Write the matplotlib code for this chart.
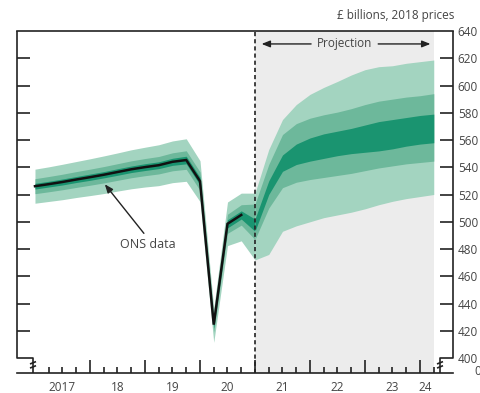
import matplotlib
matplotlib.use("Agg")
import matplotlib.pyplot as plt
import numpy as np

plt.rcParams['font.family'] = ['Open Sans', 'DejaVu Sans']

# ---- data (quarters plotted at start of quarter) ----
hist_x = [2017.0, 2017.25, 2017.5, 2017.75, 2018.0, 2018.25, 2018.5, 2018.75,
          2019.0, 2019.25, 2019.5, 2019.75, 2020.0, 2020.25, 2020.5, 2020.75]
ons_gdp = [526.1, 527.6, 529.2, 531.0, 532.7, 534.5, 536.5, 538.5,
           540.1, 541.5, 544.0, 545.3, 529.8, 424.5, 498.5, 505.0]

# historical (backcast) bands incl. 2021 Q1
band_x = hist_x + [2021.0]
h_lo3 = [513.6, 514.9, 516.2, 517.8, 519.2, 520.7, 522.5, 524.2, 525.5, 526.5, 528.7, 529.7, 514.8, 411.5, 482.5, 486.0, 472.0]
h_lo2 = [520.6, 522.0, 523.5, 525.2, 526.8, 528.5, 530.4, 532.3, 533.8, 535.1, 537.4, 538.5, 523.0, 419.0, 491.5, 497.5, 487.0]
h_lo1 = [524.0, 525.5, 527.0, 528.8, 530.4, 532.2, 534.1, 536.1, 537.6, 539.0, 541.4, 542.5, 527.0, 422.0, 495.5, 502.0, 493.0]
h_up1 = [528.2, 529.7, 531.4, 533.2, 535.0, 536.8, 538.9, 540.9, 542.6, 544.0, 546.6, 548.1, 532.6, 427.0, 501.5, 508.0, 502.0]
h_up2 = [531.6, 533.2, 534.9, 536.8, 538.6, 540.5, 542.6, 544.7, 546.4, 547.9, 550.6, 552.1, 536.6, 430.0, 505.5, 512.5, 513.0]
h_up3 = [538.6, 540.3, 542.2, 544.2, 546.2, 548.3, 550.5, 552.8, 554.7, 556.5, 559.3, 560.9, 544.8, 436.5, 514.5, 521.0, 521.0]

# projection fan 2021 Q1 - 2024 Q2
fan_x = [2021.0, 2021.25, 2021.5, 2021.75, 2022.0, 2022.25, 2022.5, 2022.75,
         2023.0, 2023.25, 2023.5, 2023.75, 2024.0, 2024.25]
f_lo3 = [472, 476, 493, 497, 500, 503, 505, 507, 509.5, 512.5, 515, 517, 518.5, 520]
f_lo2 = [487, 510, 525, 529, 531, 532.5, 534, 535.5, 537.5, 539.5, 541, 542.5, 543.5, 544.5]
f_lo1 = [493, 520, 537, 542, 544.5, 546.5, 548.5, 550, 551, 552, 553.5, 555.5, 557, 558]
f_up1 = [502, 530, 549, 557, 561.5, 564.5, 566.5, 568.5, 571, 573.5, 575, 576.5, 578, 579]
f_up2 = [513, 542, 564, 572, 576, 578.5, 580.5, 583, 586, 588.5, 590, 591.5, 592.5, 594]
f_up3 = [521, 553, 575, 586, 593.5, 598.6, 603, 607.7, 611.6, 613.8, 614.5, 616.3, 617.5, 618.7]

y_ticks = [400, 420, 440, 460, 480, 500, 520, 540, 560, 580, 600, 620, 640]
year_ticks = [2018, 2019, 2020, 2021, 2022, 2023, 2024]
year_label_pos = [2017.5, 2018.5, 2019.5, 2020.5, 2021.5, 2022.5, 2023.5, 2024.09]
year_labels = ['2017', '18', '19', '20', '21', '22', '23', '24']
proj_start, proj_end = 2021.0, 2024.25

# ---- style ----
c_light = '#a3d4c0'
c_mid = '#6db89b'
c_dark = '#1a9470'
txt = '#444444'

fig = plt.figure(figsize=(4.8, 3.93), dpi=100)
ax = fig.add_axes([17/480, (393-373)/393, 436/480, 342/393])
x0, x1 = 2016.673, 2024.6
y0, y1 = 389, 640
ax.set_xlim(x0, x1)
ax.set_ylim(y0, y1)

ax.axvspan(proj_start, proj_end, color='#ececec', lw=0, zorder=0)

for lo, up, col in [(h_lo3, h_up3, c_light), (h_lo2, h_up2, c_mid), (h_lo1, h_up1, c_dark)]:
    ax.fill_between(band_x, lo, up, color=col, lw=0, zorder=1)
for lo, up, col in [(f_lo3, f_up3, c_light), (f_lo2, f_up2, c_mid), (f_lo1, f_up1, c_dark)]:
    ax.fill_between(fan_x, lo, up, color=col, lw=0, zorder=1)

ax.plot(hist_x, ons_gdp, color='#111111', lw=1.8, zorder=3, solid_joinstyle='miter')

ax.axvline(proj_start, color='#222222', lw=1.2, ls=(0, (2.5, 1.8)), zorder=4)

# spines
for s in ['left', 'right']:
    ax.spines[s].set_visible(False)
for s in ['top', 'bottom']:
    ax.spines[s].set_linewidth(1.2)
    ax.spines[s].set_color('#222222')

px_x = 1/55.0
px_y = 1/1.3625
lk = dict(color='#222222', lw=1.2, clip_on=False, zorder=5, solid_capstyle='butt')
xb_l = x0 + 16*px_x
xb_r = x1 - 13*px_x
ax.plot([x0, x0, xb_l, xb_l], [y1, 400, 400, y0], **lk)
ax.plot([x1, x1, xb_r, xb_r], [y1, 400, 400, y0], **lk)
for xb in (xb_l, xb_r):
    for yy in (396.5, 393.5):
        ax.plot([xb - 3*px_x, xb + 3*px_x], [yy - 1.2*px_y, yy + 1.2*px_y], **lk)

# ticks
ax.set_yticks(y_ticks)
ax.set_yticklabels([str(v) for v in y_ticks])
ax.tick_params(axis='y', which='major', direction='in', length=9.5, width=1.2,
               left=True, right=True, labelleft=False, labelright=True,
               labelsize=8.5, labelcolor=txt, pad=3.5, color='#222222')
ax.set_xticks(year_ticks)
ax.set_xticklabels([])
ax.set_xticks(np.arange(2017.25, 2024.3, 0.25), minor=True)
ax.tick_params(axis='x', which='major', direction='in', length=9.5, width=1.2, color='#222222')
ax.tick_params(axis='x', which='minor', direction='in', length=4.5, width=1.2, color='#222222')
for t in (ax.yaxis.get_major_ticks()[0], ax.yaxis.get_major_ticks()[-1]):
    t.tick1line.set_visible(False)
    t.tick2line.set_visible(False)

for p, l in zip(year_label_pos, year_labels):
    ax.text(p, y0 - 10.5, l, ha='center', va='center', fontsize=8.5, color=txt, clip_on=False)

ax.text(1.0495, 390.0, '0', transform=ax.get_yaxis_transform(), fontsize=8.5, color=txt,
        ha='left', va='center', clip_on=False)
ax.text(x1 + 0.02, 651.5, '£ billions, 2018 prices', ha='right', va='center', fontsize=8.5,
        color=txt, clip_on=False)

# projection label
py = 630.5
ax.text(2022.62, py, 'Projection', ha='center', va='center', fontsize=8.5, color=txt)
ak = dict(arrowstyle='-|>,head_length=0.5,head_width=0.2', color='#222222', lw=1.0,
          shrinkA=0, shrinkB=0)
ax.annotate('', xy=(2021.12, py), xytext=(2022.02, py), arrowprops=ak)
ax.annotate('', xy=(2024.19, py), xytext=(2023.24, py), arrowprops=ak)

# ONS data annotation
ax.annotate('', xy=(2018.27, 527.5), xytext=(2018.98, 491.5),
            arrowprops=dict(arrowstyle='-|>,head_length=0.5,head_width=0.2', color='#222222',
                            lw=1.0, shrinkA=0, shrinkB=0), zorder=6)
ax.text(2019.05, 483, 'ONS data', ha='center', va='center', fontsize=9, color=txt)

fig.savefig('out.png', dpi=100)
